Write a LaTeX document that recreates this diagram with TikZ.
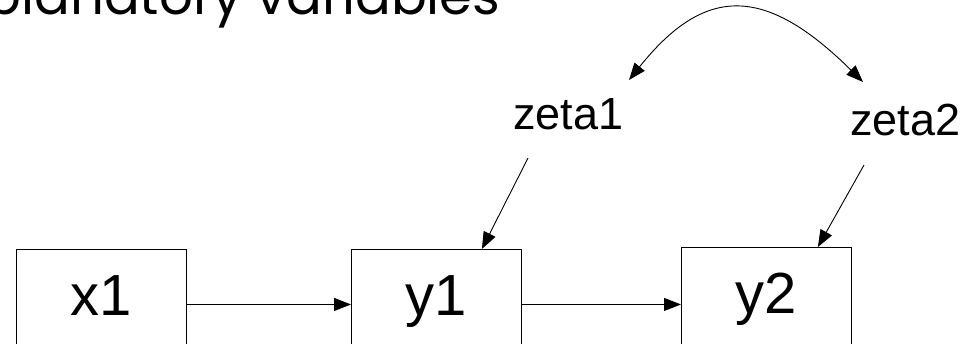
\documentclass[tikz,border=0pt]{standalone}
\usepackage{fontspec}
\setmainfont{Liberation Sans}
\newfontfamily\titlefont{Poppins}
\usetikzlibrary{arrows.meta}

\begin{document}
\begin{tikzpicture}[x=1pt,y=-1pt,
    var/.style={draw, line width=0.9pt, minimum width=170pt, minimum height=110pt,
      inner sep=0pt, text height=42pt, text depth=20pt, font=\fontsize{58}{60}\selectfont},
    err/.style={inner sep=0pt, font=\fontsize{45}{48}\selectfont},
    arr/.style={line width=0.9pt, -{Triangle[length=17pt,width=13pt]}}]
    \useasboundingbox (0,0) rectangle (973,343);
    \node[anchor=base east, font=\titlefont\fontsize{53}{60}\selectfont] (title) at (504,14) {Explanatory variables};
    % observed variables
    \node[var, anchor=north west] (x1) at (16,249) {x1};
    \node[var, anchor=north west] (y1) at (351,249) {y1};
    \node[var, anchor=north west] (y2) at (681,247) {y2};
    % disturbances
    \node[err, anchor=base west] (zeta1) at (513,129) {zeta1};
    \node[err, anchor=base west] (zeta2) at (850,135) {zeta2};
    \draw[arr] (x1) -- (y1);
    \draw[arr] (y1.east) -- (y1.east -| y2.west);
    \draw[arr] ([shift={(15,29)}]zeta1.base west) -- ([xshift=-40pt]y1.north east);
    \draw[arr] ([shift={(14,30)}]zeta2.base west) -- ([xshift=-34pt]y2.north east);
    \draw[line width=0.9pt, {Triangle[length=17pt,width=13pt]}-{Triangle[length=17pt,width=13pt]}]
      ([shift={(116,-49)}]zeta1.base west) .. controls (705,-15) and (765,-15) .. ([shift={(13,-53)}]zeta2.base west);
\end{tikzpicture}
\end{document}
